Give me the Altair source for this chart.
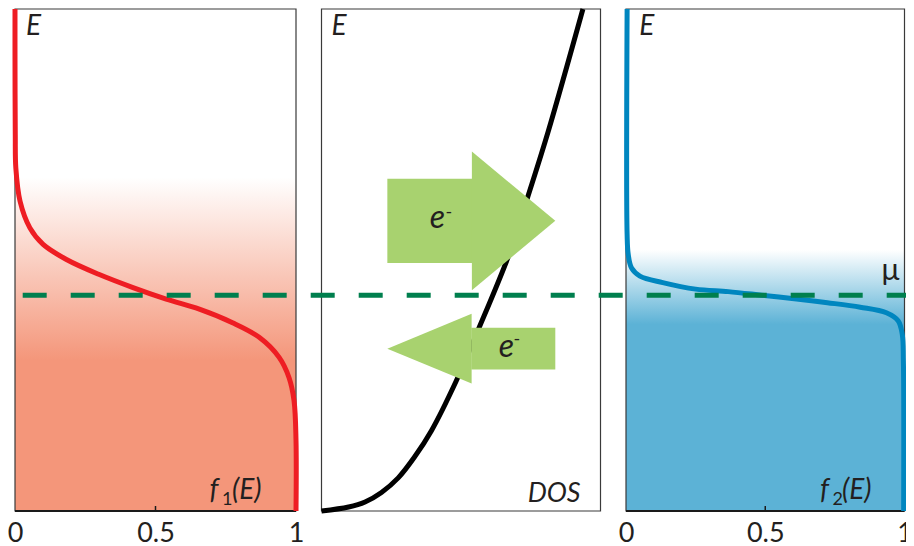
import altair as alt
import pandas as pd

# ---- data ----
# left panel: occupation f1(E) (broad Fermi edge)
F1_ENERGY = [1.0, 0.90, 0.75, 0.683, 0.617, 0.564, 0.531, 0.501, 0.471, 0.445,
             0.422, 0.402, 0.375, 0.346, 0.306, 0.266, 0.220, 0.141, 0.0]
F1_OCC = [0.0, 0.0, 0.001, 0.003, 0.018, 0.053, 0.10, 0.183, 0.30, 0.42,
          0.538, 0.656, 0.774, 0.869, 0.94, 0.975, 0.993, 1.0, 1.0]

# right panel: occupation f2(E) (sharp Fermi edge)
F2_ENERGY = [1.0, 0.551, 0.511, 0.484, 0.468, 0.455, 0.442, 0.437, 0.430, 0.423,
             0.415, 0.406, 0.395, 0.379, 0.352, 0.299, 0.0]
F2_OCC = [0.004, 0.004, 0.008, 0.020, 0.050, 0.132, 0.250, 0.367, 0.487, 0.604,
          0.723, 0.841, 0.935, 0.977, 0.992, 0.996, 0.997]

# middle panel: density of states
DOS_VALUE = [0.0, 0.097, 0.156, 0.215, 0.275, 0.334, 0.394, 0.482, 0.561,
             0.675, 0.740, 0.812, 0.937]
DOS_ENERGY = [0.0, 0.008, 0.018, 0.037, 0.066, 0.108, 0.160, 0.258, 0.360,
              0.515, 0.627, 0.755, 1.0]

MU = 0.430
TICK_VALUES = [0, 0.5, 1]

# electron-flow arrows (x in DOS units, energies)
OUT_BODY_X = [0.236, 0.540]
OUT_BODY_E = [0.662, 0.494]
OUT_HEAD_X = [0.539, 0.838]
OUT_HEAD_TOP = [0.716, 0.578]
OUT_HEAD_BOT = [0.440, 0.578]

IN_BODY_X = [0.537, 0.838]
IN_BODY_E = [0.365, 0.282]
IN_HEAD_X = [0.236, 0.538]
IN_HEAD_TOP = [0.323, 0.393]
IN_HEAD_BOT = [0.323, 0.254]

# ---- layout & styling ----
FONT = "Lato"
INK = "#231F20"
RED = "#EE1D23"
BLUE = "#0086BF"
SALMON = "#F4967A"
SKY = "#5CB2D6"
GREEN_DASH = "#007F4E"
ARROW_GREEN = "#A8D26F"
FRAME = "#3a3a3a"

W, H = 898, 538
X_DOMAIN = [8, 906]            # horizontal scale in page pixels
Y_DOMAIN = [-0.0697, 1.002]    # energy scale (E=0 at panel bottom, E=1 at panel top)
PANEL_LEFT = {"f1": 15.0, "dos": 321.5, "f2": 626.0}
PANEL_WIDTH = {"f1": 281.0, "dos": 279.0, "f2": 278.5}
DASH_START, DASH_END = 22.7, 912

TICK_POS = [PANEL_LEFT[p] + t * PANEL_WIDTH[p] for p in ("f1", "f2") for t in TICK_VALUES]
TICK_TEXT = [f"{t:g}" for p in ("f1", "f2") for t in TICK_VALUES]
LABEL_EXPR = "".join(
    f"abs(datum.value - {pos}) < 0.01 ? '{lab}' : " for pos, lab in zip(TICK_POS, TICK_TEXT)
) + "''"

XSCALE = alt.Scale(domain=X_DOMAIN, nice=False, zero=False)
YSCALE = alt.Scale(domain=Y_DOMAIN, nice=False, zero=False)
XAXIS = alt.Axis(values=TICK_POS, labelExpr=LABEL_EXPR, domain=False, ticks=False,
                 grid=False, labelFont=FONT, labelFontSize=27, labelColor=INK,
                 labelPadding=9, offset=-35, labelOverlap=False, title=None)


def X(field):
    return alt.X(field, type="quantitative", scale=XSCALE, axis=XAXIS)


def Y(field):
    return alt.Y(field, type="quantitative", scale=YSCALE, axis=None)


def to_page(chart, panel, src, dst):
    return chart.transform_calculate(
        **{dst: f"{PANEL_LEFT[panel]} + datum.{src} * {PANEL_WIDTH[panel]}"})


def panel_box(panel):
    return pd.DataFrame({"v0": [TICK_VALUES[0]], "v1": [TICK_VALUES[-1]],
                         "e0": [0], "e1": [1]})


def gradient(c, start, end):
    return {"gradient": "linear", "x1": 0, "y1": 0, "x2": 0, "y2": 1,
            "stops": [{"offset": 0, "color": "#FFFFFF"},
                      {"offset": start, "color": "#FFFFFF"},
                      {"offset": end, "color": c},
                      {"offset": 1, "color": c}]}


def background(panel, c, start, end):
    ch = alt.Chart(panel_box(panel)).mark_rect(fill=gradient(c, start, end))
    ch = to_page(to_page(ch, panel, "v0", "gx0"), panel, "v1", "gx1")
    return ch.encode(x=X("gx0"), x2="gx1", y=Y("e0"), y2="e1")


def frame(panel):
    ch = alt.Chart(panel_box(panel)).mark_rect(
        fillOpacity=0, stroke=FRAME, strokeWidth=1.2)
    ch = to_page(to_page(ch, panel, "v0", "gx0"), panel, "v1", "gx1")
    return ch.encode(x=X("gx0"), x2="gx1", y=Y("e0"), y2="e1")


def baseline_rule(panel):
    ch = alt.Chart(panel_box(panel)).mark_rule(color="#1a1a1a", strokeWidth=2)
    ch = to_page(to_page(ch, panel, "v0", "gx0"), panel, "v1", "gx1")
    return ch.encode(x=X("gx0"), x2="gx1", y=Y("e0"))


def mid_tick(panel):
    ch = alt.Chart(pd.DataFrame({"t": [TICK_VALUES[1]]})).mark_rule(
        color="#1a1a1a", strokeWidth=1.5)
    ch = to_page(ch, panel, "t", "gx")
    return ch.encode(x=X("gx"), y=alt.value(503), y2=alt.value(498))


def curve(panel, values, energy, color):
    df = pd.DataFrame({"v": values, "E": energy, "i": list(range(len(values)))})
    ch = alt.Chart(df).mark_line(color=color, strokeWidth=5,
                                 interpolate="catmull-rom", strokeCap="butt")
    ch = to_page(ch, panel, "v", "gx")
    return ch.encode(x=X("gx"), y=Y("E"), order="i:Q")


def arrow_body(xs, es):
    df = pd.DataFrame({"a": [xs[0]], "b": [xs[1]], "e0": [es[0]], "e1": [es[1]]})
    ch = alt.Chart(df).mark_rect(color=ARROW_GREEN)
    ch = to_page(to_page(ch, "dos", "a", "gx0"), "dos", "b", "gx1")
    return ch.encode(x=X("gx0"), x2="gx1", y=Y("e0"), y2="e1")


def arrow_head(xs, top, bot):
    df = pd.DataFrame({"a": xs, "top": top, "bot": bot})
    ch = alt.Chart(df).mark_area(color=ARROW_GREEN)
    ch = to_page(ch, "dos", "a", "gx")
    return ch.encode(x=X("gx"), y=alt.Y("top:Q", scale=YSCALE, axis=None, stack=None),
                     y2="bot:Q")


ONE = pd.DataFrame({"k": [0]})


def txt(s, x, y, size, style="italic", align="left"):
    return alt.Chart(ONE).mark_text(
        text=s, font=FONT, fontSize=size, fontStyle=style, align=align,
        baseline="alphabetic", color=INK
    ).encode(x=alt.value(x), y=alt.value(y))


mu_line = alt.Chart(pd.DataFrame({"x0": [DASH_START], "x1": [DASH_END], "E": [MU]})).mark_rule(
    color=GREEN_DASH, strokeWidth=5, strokeDash=[24, 24], strokeCap="butt"
).encode(x=X("x0"), x2="x1", y=Y("E"))

chart = alt.layer(
    background("f1", SALMON, 0.335, 0.70),
    background("f2", SKY, 0.48, 0.628),
    frame("f1"), frame("dos"), frame("f2"),
    baseline_rule("f1"), baseline_rule("f2"),
    mid_tick("f1"), mid_tick("f2"),
    curve("f1", F1_OCC, F1_ENERGY, RED),
    curve("f2", F2_OCC, F2_ENERGY, BLUE),
    curve("dos", DOS_VALUE, DOS_ENERGY, "#000000"),
    arrow_body(OUT_BODY_X, OUT_BODY_E),
    arrow_head(OUT_HEAD_X, OUT_HEAD_TOP, OUT_HEAD_BOT),
    arrow_body(IN_BODY_X, IN_BODY_E),
    arrow_head(IN_HEAD_X, IN_HEAD_TOP, IN_HEAD_BOT),
    mu_line,
    # panel labels (pixel positions inside the view)
    txt("E", 18, 27, 28),
    txt("E", 323.5, 27, 28),
    txt("E", 631.2, 27, 28),
    txt("f", 201.5, 491, 28),
    txt("1", 214, 497, 18, style="normal"),
    txt("(E)", 224, 491, 28),
    txt("f", 812, 491, 28),
    txt("2", 824.5, 497, 18, style="normal"),
    txt("(E)", 834, 491, 28),
    txt("DOS", 572.5, 493.7, 27, align="right"),
    txt("e", 429.5, 220.3, 32, align="center"),
    txt("-", 440.8, 209.6, 18, style="normal", align="center"),
    txt("e", 498.5, 348.7, 32, align="center"),
    txt("-", 508.8, 336.9, 18, style="normal", align="center"),
    txt("μ", 882.4, 272, 30, style="normal", align="center"),
).properties(
    width=W, height=H, padding=0, background="#FFFFFF",
    autosize=alt.AutoSizeParams(type="none", contains="padding"),
).configure_view(stroke="transparent")

chart.save("out.html", embed_options={"renderer": "svg", "actions": False})
